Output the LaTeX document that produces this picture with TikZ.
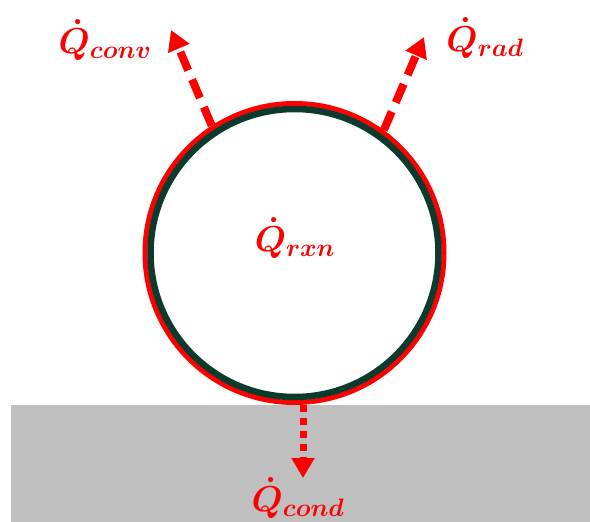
\RequirePackage{fix-cm}
\documentclass[tikz,border=0pt]{standalone}
\usepackage{amsmath, amssymb}
\usepackage{tikz}
\usetikzlibrary{arrows.meta}

\definecolor{ringgreen}{RGB}{12,58,44}

\begin{document}
\begin{tikzpicture}[x=1pt, y=-1pt,
    heat/.style={red, line width=8pt, dash pattern=on 20pt off 10pt,
        -{Triangle[width=22pt,length=20pt]}},
    lbl/.style={red, font=\fontsize{36}{40}\selectfont}]
    \useasboundingbox (0,0) rectangle (590,522);

    % ground
    \fill[gray!50] (11,405) rectangle (590,522);

    % particle
    \node[circle, draw=red, line width=5pt, inner sep=0pt,
        minimum size=299pt] (ball) at (294.5,253) {};
    \draw[ringgreen, line width=6.5pt] (ball.center) circle (144);

    \node[lbl] (qrxn) at (295,238) {$\boldsymbol{\dot{Q}_{rxn}}$};
    \node[lbl] (qconv) at (105,40) {$\boldsymbol{\dot{Q}_{conv}}$};
    \node[lbl] (qrad) at (485,38) {$\boldsymbol{\dot{Q}_{rad}}$};
    \node[lbl] (qcond) at (298,498) {$\boldsymbol{\dot{Q}_{cond}}$};

    \coordinate (convtip) at (171,30);
    \coordinate (radtip) at (424,37);
    \coordinate (condtip) at (303,478);

    \draw[heat] (ball.123) -- (convtip);
    \draw[heat] (ball.54) -- (radtip);
    \draw[heat, line width=7pt, dash pattern=on 7pt off 6pt]
        (ball.south -| condtip) -- (condtip);
\end{tikzpicture}
\end{document}
